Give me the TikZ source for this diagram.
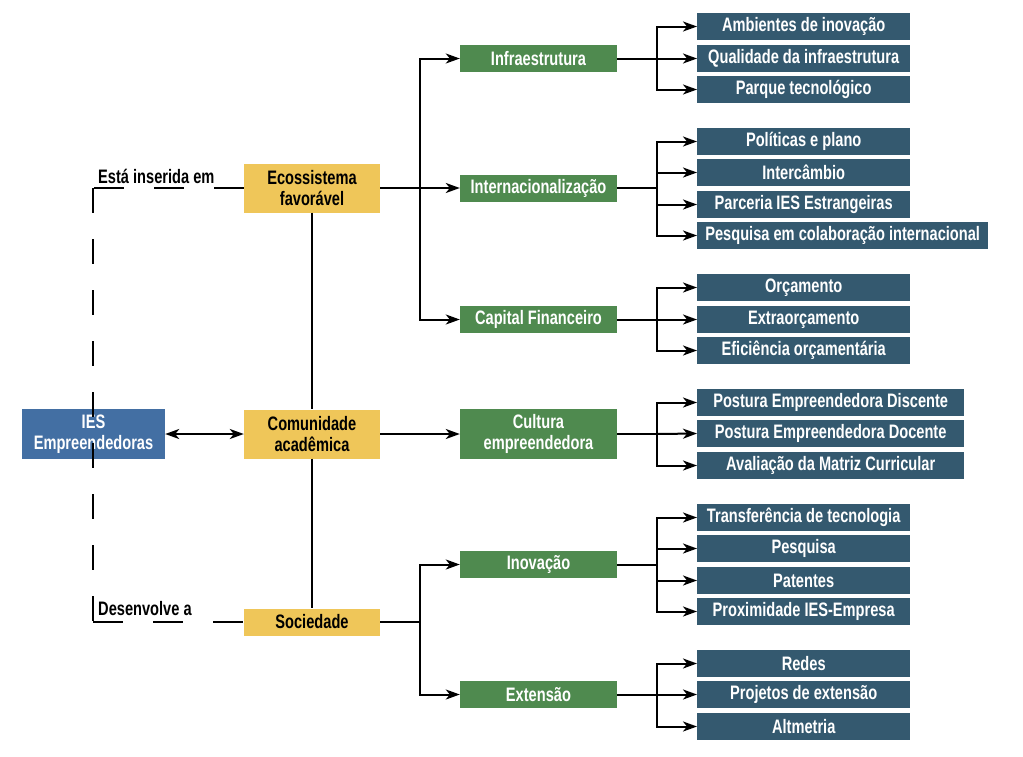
\documentclass[tikz,border=0pt]{standalone}
\usepackage{fontspec}
\setmainfont{Liberation Sans}[FakeStretch=0.75]
\usepackage{xcolor}
\usetikzlibrary{arrows.meta}

\definecolor{iesblue}{HTML}{436FA3}
\definecolor{pillaryellow}{HTML}{EFC659}
\definecolor{dimgreen}{HTML}{4F8A4F}
\definecolor{itemslate}{HTML}{34596F}

\begin{document}
\begin{tikzpicture}[
      x = 1pt, y = -1pt,
      every node/.style = {font = \bfseries\fontsize{19.5}{21}\selectfont, inner sep = 0pt, align = center},
      iesbox/.style = {fill = iesblue, text = white, minimum width = 143pt, minimum height = 50pt},
      pillarbox/.style = {fill = pillaryellow, minimum width = 136pt, minimum height = #1},
      pillarbox/.default = 27pt,
      dimbox/.style = {fill = dimgreen, text = white, minimum width = 157pt, minimum height = #1},
      dimbox/.default = 27pt,
      itembox/.style = {fill = itemslate, text = white, anchor = west, minimum width = #1, minimum height = 27pt},
      itembox/.default = 213pt,
      relabel/.style = {anchor = west},
      wire/.style = {line width = 2pt},
      link/.style = {wire, -{Stealth[length = 14pt, width = 10pt, inset = 4pt]}},
      reldash/.style = {wire, dash pattern = on #1 off #1},
      ]
      \useasboundingbox (0,0) rectangle (1023,756);

      \node[iesbox] (ies) at (93.5,434) {IES\\Empreendedoras};
      \node[pillarbox = 49pt] (eco) at (312,188) {Ecossistema\\favorável};
      \node[pillarbox = 49pt] (com) at (312,434) {Comunidade\\acadêmica};
      \node[pillarbox] (soc) at (312,622) {Sociedade};

      \node[relabel] (ins) at (98,176) {Está inserida em};
      \node[relabel] (dev) at (98,609) {Desenvolve a};

      \node[dimbox] (infra) at (538.5,58.5) {Infraestrutura};
      \node[dimbox] (intl) at (538.5,188) {Internacionalização};
      \node[dimbox] (capfin) at (538.5,319.5) {Capital Financeiro};
      \node[dimbox = 50pt] (cult) at (538.5,434) {Cultura\\empreendedora};
      \node[dimbox] (inov) at (538.5,564.5) {Inovação};
      \node[dimbox] (ext) at (538.5,694.5) {Extensão};

      \node[itembox] (amb) at (697,26.5) {Ambientes de inovação};
      \node[itembox] (qual) at (697,58.5) {Qualidade da infraestrutura};
      \node[itembox] (parque) at (697,89.5) {Parque tecnológico};

      \node[itembox] (polit) at (697,141.5) {Políticas e plano};
      \node[itembox] (interc) at (697,172.5) {Intercâmbio};
      \node[itembox] (parc) at (697,204.5) {Parceria IES Estrangeiras};
      \node[itembox = 291pt] (pesqint) at (697,235.5) {Pesquisa em colaboração internacional};

      \node[itembox] (orc) at (697,287.5) {Orçamento};
      \node[itembox] (extra) at (697,319.5) {Extraorçamento};
      \node[itembox] (efic) at (697,350.5) {Eficiência orçamentária};

      \node[itembox = 267pt] (pdisc) at (697,402.5) {Postura Empreendedora Discente};
      \node[itembox = 267pt] (pdoc) at (697,433.5) {Postura Empreendedora Docente};
      \node[itembox = 267pt] (aval) at (697,465.5) {Avaliação da Matriz Curricular};

      \node[itembox] (transf) at (697,517.5) {Transferência de tecnologia};
      \node[itembox] (pesq) at (697,548.5) {Pesquisa};
      \node[itembox] (pat) at (697,580.5) {Patentes};
      \node[itembox] (prox) at (697,611.5) {Proximidade IES-Empresa};

      \node[itembox] (redes) at (697,663.5) {Redes};
      \node[itembox] (proj) at (697,694.5) {Projetos de extensão};
      \node[itembox] (alt) at (697,726.5) {Altmetria};

      \coordinate (topC) at (93,188);
      \coordinate (botC) at (93,622);
      \coordinate (ecoJ) at (420,188);
      \coordinate (socJ) at (420,622);
      \coordinate (infraJ) at (657,58.5);
      \coordinate (intlJ) at (657,188);
      \coordinate (capJ) at (657,319.5);
      \coordinate (cultJ) at (657,434);
      \coordinate (inovJ) at (657,564.5);
      \coordinate (extJ) at (657,694.5);

      \draw[reldash = 30pt] (eco.west) -- (topC);
      \draw[wire, dash pattern = on 25pt off 26pt] (topC) -- (botC);
      \draw[reldash = 30pt] (botC) -- (soc.west);

      \draw[wire, {Stealth[length = 14pt, width = 10pt, inset = 4pt]}-{Stealth[length = 14pt, width = 10pt, inset = 4pt]}] (ies) -- (com);
      \draw[wire] (eco) -- (com) -- (soc);

      \draw[link] (eco.east) -- (intl.west);
      \draw[link] (ecoJ) |- (infra.west);
      \draw[link] (ecoJ) |- (capfin.west);
      \draw[link] (com) -- (cult);
      \draw[wire] (soc.east) -- (socJ);
      \draw[link] (socJ) |- (inov.west);
      \draw[link] (socJ) |- (ext.west);

      \draw[wire] (infra.east) -- (infraJ);
      \draw[link] (infraJ) |- (amb.west);
      \draw[link] (infraJ) -- (qual.west);
      \draw[link] (infraJ) |- (parque.west);

      \draw[wire] (intl.east) -- (intlJ);
      \draw[link] (intlJ) |- (polit.west);
      \draw[link] (intlJ) |- (interc.west);
      \draw[link] (intlJ) |- (parc.west);
      \draw[link] (intlJ) |- (pesqint.west);

      \draw[wire] (capfin.east) -- (capJ);
      \draw[link] (capJ) |- (orc.west);
      \draw[link] (capJ) -- (extra.west);
      \draw[link] (capJ) |- (efic.west);

      \draw[wire] (cult.east) -- (cultJ);
      \draw[link] (cultJ) |- (pdisc.west);
      \draw[link] (cultJ) -- (pdoc.west);
      \draw[link] (cultJ) |- (aval.west);

      \draw[wire] (inov.east) -- (inovJ);
      \draw[link] (inovJ) |- (transf.west);
      \draw[link] (inovJ) |- (pesq.west);
      \draw[link] (inovJ) |- (pat.west);
      \draw[link] (inovJ) |- (prox.west);

      \draw[wire] (ext.east) -- (extJ);
      \draw[link] (extJ) |- (redes.west);
      \draw[link] (extJ) -- (proj.west);
      \draw[link] (extJ) |- (alt.west);
    \end{tikzpicture}
\end{document}
